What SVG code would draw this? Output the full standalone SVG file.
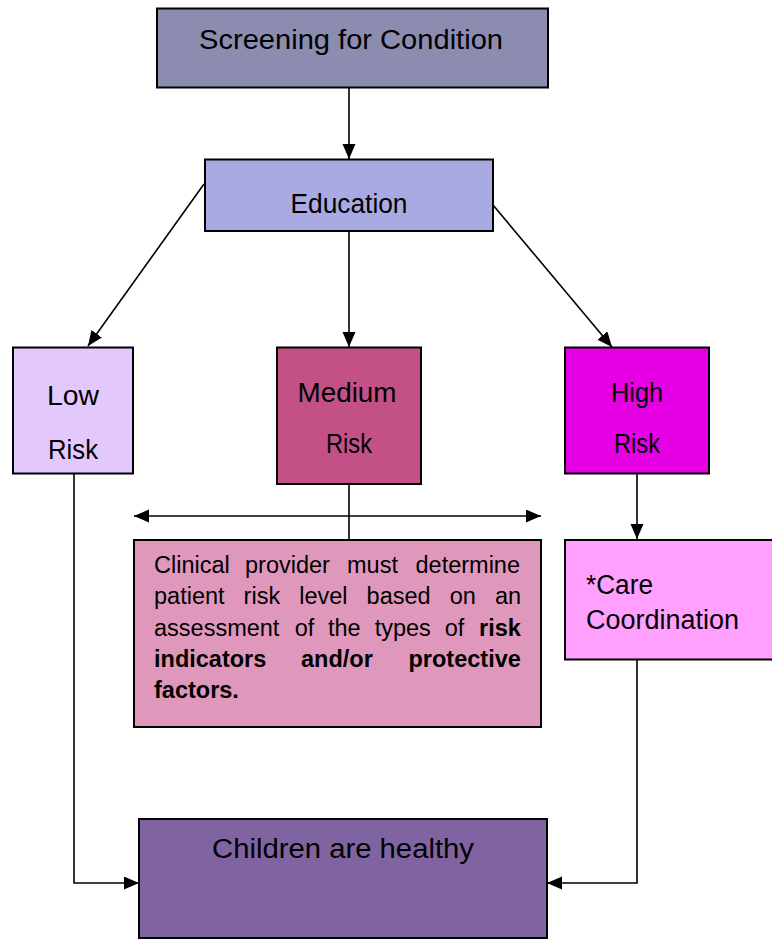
<svg xmlns="http://www.w3.org/2000/svg" width="772" height="939" viewBox="0 0 772 939">
<style>
.box{stroke:#000;stroke-width:2}
.lbl{font-family:"Liberation Sans",Arial,sans-serif;font-size:27px;fill:#000;text-anchor:middle}
.body{font-family:"Liberation Sans",Arial,sans-serif;font-size:23.5px;fill:#000}
.b{font-weight:bold}
.conn{fill:none;stroke:#000;stroke-width:1.6}
</style>
<defs>
<marker id="ah" markerUnits="userSpaceOnUse" markerWidth="16" markerHeight="14" refX="15" refY="6.5" orient="auto-start-reverse" viewBox="0 0 16 14">
<path d="M0,0 L15,6.5 L0,13 z" fill="#000"/>
</marker>
</defs>
<rect width="772" height="939" fill="#fff"/>
<g id="connectors">
<path class="conn" d="M349,88 L349,159" marker-end="url(#ah)"/>
<path class="conn" d="M204,184 L88,346" marker-end="url(#ah)"/>
<path class="conn" d="M349,231 L349,347" marker-end="url(#ah)"/>
<path class="conn" d="M493,205 L612,347" marker-end="url(#ah)"/>
<path class="conn" d="M349,484 L349,540"/>
<path class="conn" d="M134,516 L541,516" marker-start="url(#ah)" marker-end="url(#ah)"/>
<path class="conn" d="M637,473 L637,539" marker-end="url(#ah)"/>
<path class="conn" d="M74,473 L74,883 L139,883" marker-end="url(#ah)"/>
<path class="conn" d="M637,660 L637,883 L547,883" marker-end="url(#ah)"/>
</g>
<g id="screening">
<rect class="box" x="157" y="8.5" width="391" height="79" fill="#8C8CB1" stroke-width="2.5"/>
<text class="lbl" x="351" y="49" font-size="28" textLength="304" lengthAdjust="spacingAndGlyphs">Screening for Condition</text>
</g>
<g id="education">
<rect class="box" x="205" y="159.5" width="288" height="71.5" fill="#AAAAE2"/>
<text class="lbl" x="349" y="213" textLength="117" lengthAdjust="spacingAndGlyphs">Education</text>
</g>
<g id="low">
<rect class="box" x="13" y="347.5" width="120" height="126" fill="#E3C8FE"/>
<text class="lbl" x="73" y="405" textLength="52" lengthAdjust="spacingAndGlyphs">Low</text>
<text class="lbl" x="73" y="459" textLength="50" lengthAdjust="spacingAndGlyphs">Risk</text>
</g>
<g id="medium">
<rect class="box" x="277" y="347.5" width="144" height="136.5" fill="#C45088"/>
<text class="lbl" x="347" y="402" textLength="99" lengthAdjust="spacingAndGlyphs">Medium</text>
<text class="lbl" x="349" y="453" textLength="46" lengthAdjust="spacingAndGlyphs">Risk</text>
</g>
<g id="high">
<rect class="box" x="565" y="347.5" width="144" height="126" fill="#E600E4"/>
<text class="lbl" x="637" y="402" textLength="52" lengthAdjust="spacingAndGlyphs">High</text>
<text class="lbl" x="637" y="453" textLength="46" lengthAdjust="spacingAndGlyphs">Risk</text>
</g>
<g id="clinical">
<rect class="box" x="134" y="540" width="407" height="187" fill="#DF98BC"/>
<text class="body" y="573"><tspan x="154">Clinical</tspan><tspan x="245">provider</tspan><tspan x="347">must</tspan><tspan x="415.5">determine</tspan></text>
<text class="body" y="604"><tspan x="154">patient</tspan><tspan x="243.6">risk</tspan><tspan x="299.2">level</tspan><tspan x="366.6">based</tspan><tspan x="449.7">on</tspan><tspan x="494.9">an</tspan></text>
<text class="body" y="636"><tspan x="154">assessment</tspan><tspan x="294.7">of</tspan><tspan x="328">the</tspan><tspan x="374.7">types</tspan><tspan x="444.7">of</tspan><tspan class="b" x="479">risk</tspan></text>
<text class="body b" y="667"><tspan x="154">indicators</tspan><tspan x="301">and/or</tspan><tspan x="408.5">protective</tspan></text>
<text class="body b" y="698"><tspan x="154">factors.</tspan></text>
</g>
<g id="care">
<rect class="box" x="565" y="540" width="220" height="119.5" fill="#FFA0FF"/>
<text class="lbl" x="586" y="594" text-anchor="start" style="text-anchor:start" textLength="67" lengthAdjust="spacingAndGlyphs">*Care</text>
<text class="lbl" x="586" y="629" style="text-anchor:start" textLength="153" lengthAdjust="spacingAndGlyphs">Coordination</text>
</g>
<g id="children">
<rect class="box" x="139" y="819" width="408" height="119" fill="#8064A2"/>
<text class="lbl" x="343" y="858" textLength="262" lengthAdjust="spacingAndGlyphs">Children are healthy</text>
</g>
</svg>
